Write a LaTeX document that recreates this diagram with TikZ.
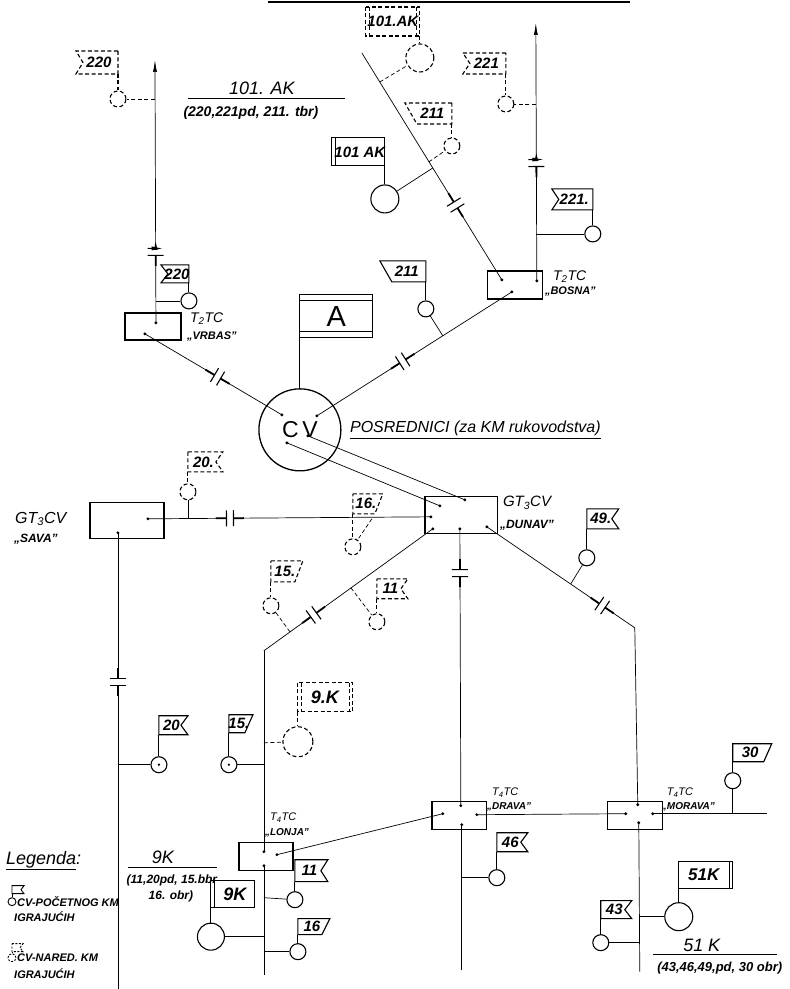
\documentclass[tikz,border=0pt]{standalone}
\usepackage{fontspec}
\setmainfont{Liberation Sans}
\usetikzlibrary{arrows.meta, decorations.markings}

% flags: [style]{name}{x1}{y1}{x2}{y2}{label}
% pole left, notch right
\newcommand{\flagnr}[7][]{%
  \draw[flagline, #1] (#3,#4) -- (#5,#4) -- ({#5-7},{(#4+#6)/2}) -- (#5,#6) -- (#3,#6) -- cycle;
  \coordinate (#2) at (#3,#6);
  \node[flagtxt] (#2-t) at ({(#3+#5)/2-2},{(#4+#6)/2}) {#7};}
% pole right, notch left
\newcommand{\flagnl}[7][]{%
  \draw[flagline, #1] (#5,#4) -- (#3,#4) -- ({#3+7},{(#4+#6)/2}) -- (#3,#6) -- (#5,#6) -- cycle;
  \coordinate (#2) at (#5,#6);
  \node[flagtxt] (#2-t) at ({(#3+#5)/2+2},{(#4+#6)/2}) {#7};}
% pole left, slanted right edge
\newcommand{\flagsr}[7][]{%
  \draw[flagline, #1] (#3,#4) -- (#5,#4) -- ({#5-8},#6) -- (#3,#6) -- cycle;
  \coordinate (#2) at (#3,#6);
  \node[flagtxt] (#2-t) at ({(#3+#5)/2-2},{(#4+#6)/2}) {#7};}
% pole right, slanted left edge
\newcommand{\flagsl}[7][]{%
  \draw[flagline, #1] (#5,#4) -- (#3,#4) -- ({#3+12},#6) -- (#5,#6) -- cycle;
  \coordinate (#2) at (#5,#6);
  \node[flagtxt] (#2-t) at ({(#3+#5)/2+4},{(#4+#6)/2}) {#7};}

\begin{document}
\begin{tikzpicture}[x=1pt, y=-1pt, >=Latex,
    ln/.style = {line width=.7pt},
    dsh/.style = {dash pattern=on 4pt off 2.5pt},
    flagline/.style = {line width=1.1pt},
    flagtxt/.style = {font=\bfseries\itshape\fontsize{15}{15}\selectfont, inner sep=0pt},
    txt/.style = {font=\itshape\fontsize{#1}{#1}\selectfont, inner sep=0pt},
    btxt/.style = {font=\bfseries\itshape\fontsize{#1}{#1}\selectfont, inner sep=0pt},
    tbox/.style = {draw, rectangle, line width=1.3pt, inner sep=0pt},
    stn/.style = {draw, circle, line width=1.1pt, inner sep=0pt, minimum size=16pt},
    bigstn/.style = {stn, minimum size=28pt},
    arr/.style = {-{Latex[length=12pt, width=4pt]}},
    capdeco/.style = {postaction = {decorate, decoration = {markings,
                       mark = at position #1 with {\fill[white] (-3.5,-10) rectangle (3.5,10);
                                                   \draw[line width=1.1pt] (-3.5,-8) -- (-3.5,8) (3.5,-8) -- (3.5,8);
                                                   \draw[line width=1.8pt] (-14,0) -- (-3.5,0) (3.5,0) -- (14,0);}}}}
  ]
  \path[fill=white] (0,0) rectangle (790,989);

  % title rule (cut off)
  \draw[line width=1.4pt] (268,2) -- (630,2);

  % centres
  \node[draw, circle, line width=1.3pt, minimum size=82pt, inner sep=0pt,
        font=\fontsize{23}{23}\selectfont] (cv) at (300,430) {C\,V};
  \node[tbox, minimum width=56, minimum height=27] (vrbas) at (153,326.5) {};
  \node[tbox, minimum width=55, minimum height=28] (bosna) at (515.5,285) {};
  \node[tbox, minimum width=73, minimum height=37] (dunav) at (461.5,515.5) {};
  \node[tbox, minimum width=74, minimum height=36] (sava) at (127,521) {};
  \node[tbox, minimum width=54, minimum height=28] (lonja) at (266,857) {};
  \node[tbox, minimum width=55, minimum height=28] (drava) at (459.5,816) {};
  \node[tbox, minimum width=55, minimum height=28] (morava) at (635.5,816) {};

  % ports
  \coordinate (vrbas-n) at (156,323);  \coordinate (vrbas-sw) at (145,334);
  \coordinate (bosna-w) at (502,280);  \coordinate (bosna-n) at (537,281);
  \coordinate (bosna-s) at (512,292);
  \coordinate (cv-nw) at (282,415);    \coordinate (cv-ne) at (317,416);
  \coordinate (cv-s) at (287,443);     \coordinate (cv-se) at (308,436);
  \coordinate (dunav-nw) at (440,506); \coordinate (dunav-n) at (465,500);
  \coordinate (dunav-w) at (431,517);  \coordinate (dunav-sw) at (433,529);
  \coordinate (dunav-s) at (460,529);  \coordinate (dunav-se) at (487,527);
  \coordinate (sava-e) at (148,519);   \coordinate (sava-s) at (118,533);
  \coordinate (lonja-n) at (264,852);  \coordinate (lonja-e) at (277,855);
  \coordinate (lonja-s) at (264,866);
  \coordinate (drava-w) at (443,814);  \coordinate (drava-n) at (461,806);
  \coordinate (drava-e) at (477,815);  \coordinate (drava-s) at (462,825);
  \coordinate (morava-w) at (626,814); \coordinate (morava-n) at (638,805);
  \coordinate (morava-e) at (653,814); \coordinate (morava-s) at (639,823);
  \foreach \d in {vrbas-n, vrbas-sw, bosna-w, bosna-n, bosna-s, cv-nw, cv-ne, cv-s, cv-se,
                  dunav-nw, dunav-n, dunav-w, dunav-sw, dunav-s, dunav-se, sava-e, sava-s,
                  lonja-n, lonja-e, lonja-s, drava-w, drava-n, drava-e, drava-s,
                  morava-w, morava-n, morava-e, morava-s}
    \fill (\d) circle (1.6);

  % stations
  \node[bigstn, dsh] (c101akd) at (420,58) {};
  \node[stn, dsh] (c220d) at (118,99) {};
  \node[stn, dsh] (c221d) at (506,104) {};
  \node[stn, dsh] (c211d) at (452,146) {};
  \node[bigstn] (c101ak) at (385,199) {};
  \node[stn] (c221) at (593,234) {};
  \node[stn] (c220) at (189,301) {};
  \node[stn] (c211) at (426,309) {};
  \node[stn, dsh] (c20d) at (188,492) {};
  \node[stn, dsh] (c16d) at (353,547) {};
  \node[stn] (c49) at (587,558) {};
  \node[stn, dsh] (c15d) at (271,606) {};
  \node[stn, dsh] (c11d) at (377,622) {};
  \node[bigstn, dsh, minimum size=30pt] (c9kd) at (298,742) {};
  \node[stn] (c20) at (159,765) {};
  \node[stn] (c15) at (229,765) {};
  \fill (c20) circle (1.3) (c15) circle (1.3);
  \node[stn] (c30) at (733,781) {};
  \node[stn] (c46) at (497,878) {};
  \node[stn] (c11) at (295,900) {};
  \node[bigstn] (c51k) at (679,917) {};
  \node[bigstn, minimum size=27pt] (c9k) at (211,937) {};
  \node[stn] (c43) at (601,943) {};
  \node[stn] (c16) at (298,952) {};

  % upper lines
  \coordinate (top220) at (155,60);
  \coordinate (topak) at (362,53);
  \coordinate (top221) at (536,23);
  \draw[ln, arr, capdeco=0.27] (vrbas-n) -- (top220);
  \draw[ln, capdeco=0.33] (bosna-w) -- (topak);
  \draw[ln, arr, capdeco=0.457] (bosna-n) -- (top221);
  \draw[ln, capdeco=0.53] (vrbas-sw) -- (cv-nw);
  \draw[ln, capdeco=0.56] (bosna-s) -- (cv-ne);

  \coordinate (j220d) at (155,99);  \draw[ln, dsh] (j220d) -- (c220d);
  \coordinate (j220) at (156,301);  \draw[ln] (j220) -- (c220);
  \coordinate (jakd) at (380,82);   \draw[ln, dsh] (jakd) -- (c101akd);
  \coordinate (j211d) at (429,162); \draw[ln, dsh] (j211d) -- (c211d);
  \coordinate (jak) at (433,168);   \draw[ln] (jak) -- (c101ak);
  \coordinate (j221d) at (536,104); \draw[ln, dsh] (j221d) -- (c221d);
  \coordinate (j221) at (536,234);  \draw[ln] (j221) -- (c221);
  \coordinate (j211) at (443,336);  \draw[ln] (j211) -- (c211);

  % CV - DUNAV
  \draw[ln] (cv-se) -- (dunav-n);
  \draw[ln] (cv-s) -- (dunav-nw);

  % SAVA - DUNAV
  \draw[ln, capdeco=0.29] (sava-e) -- (dunav-w);
  \coordinate (j20d) at (188,519);  \draw[ln] (j20d) -- (c20d);
  \coordinate (j16d) at (372,519);  \draw[ln, dsh] (j16d) -- (c16d);

  % DUNAV - LONJA
  \coordinate (lonja-top) at (264,651);
  \coordinate (bot-lonja) at (264,975);
  \draw[ln, capdeco=0.706] (dunav-sw) -- (lonja-top);
  \draw[ln] (lonja-top) -- (lonja-n);
  \draw[ln] (lonja-s) -- (bot-lonja);
  \coordinate (j15d) at (290,632);  \draw[ln, dsh] (j15d) -- (c15d);
  \coordinate (j11d) at (351,588);  \draw[ln, dsh] (j11d) -- (c11d);

  % DUNAV - DRAVA
  \coordinate (bot-drava) at (462,970);
  \draw[ln, capdeco=0.16] (dunav-s) -- (drava-n);
  \draw[ln] (drava-s) -- (bot-drava);
  \coordinate (j46) at (462,878);   \draw[ln] (j46) -- (c46);

  % DUNAV - MORAVA
  \coordinate (morava-top) at (635,628);
  \coordinate (bot-morava) at (640,972);
  \draw[ln, capdeco=0.78] (dunav-se) -- (morava-top);
  \draw[ln] (morava-top) -- (morava-n);
  \draw[ln] (morava-s) -- (bot-morava);
  \coordinate (j49) at (571,584);   \draw[ln] (j49) -- (c49);
  \coordinate (j51k) at (639,917);  \draw[ln] (j51k) -- (c51k);
  \coordinate (j43) at (640,943);   \draw[ln] (j43) -- (c43);

  % T4 line
  \coordinate (end30) at (767,814);
  \draw[ln] (lonja-e) -- (drava-w);
  \draw[ln] (drava-e) -- (morava-w);
  \draw[ln] (morava-e) -- (end30);
  \coordinate (j30) at (733,814);   \draw[ln] (j30) -- (c30);

  % SAVA down
  \coordinate (bot-sava) at (118,989);
  \draw[ln, capdeco=0.327] (sava-s) -- (bot-sava);
  \coordinate (j20) at (118,765);   \draw[ln] (j20) -- (c20);

  % LONJA branches
  \coordinate (j15) at (264,765);   \draw[ln] (j15) -- (c15);
  \coordinate (j9kd) at (264,743);  \draw[ln, dsh] (j9kd) -- (c9kd);
  \coordinate (j11) at (264,898);   \draw[ln] (j11) -- (c11);
  \coordinate (j9k) at (264,937);   \draw[ln] (j9k) -- (c9k);
  \coordinate (j16) at (264,952);   \draw[ln] (j16) -- (c16);

  % flags
  \flagnl[dsh]{f220d}{76}{51}{118}{74}{220}
  \flagnl[dsh]{f221d}{463}{53}{506}{74}{221}
  \flagsl[dsh]{f211d}{405}{103}{452}{124}{211}
  \flagnl{f221}{552}{189}{593}{210}{221.}
  \flagnl{f220}{161}{265}{189}{283}{220}
  \flagsl{f211}{380}{261}{426}{282}{211}
  \flagnr[dsh]{f20d}{188}{452}{223}{472}{20.}
  \flagsr[dsh]{f16d}{353}{494}{383}{514}{16.}
  \flagnr{f49}{587}{509}{619}{529}{49.}
  \flagsr[dsh]{f15d}{271}{561}{303}{582}{15.}
  \flagnr[dsh]{f11d}{377}{579}{408}{599}{11}
  \flagnr{f20}{159}{716}{188}{735}{20}
  \flagsr{f15}{229}{715}{253}{733}{15.}
  \flagsr{f30}{733}{744}{772}{762}{30}
  \flagnr{f46}{497}{833}{528}{852}{46}
  \flagnr{f11}{295}{860}{328}{882}{11}
  \flagsr{f16}{298}{919}{330}{935}{16}
  \flagnr{f43}{601}{901}{632}{919}{43}

  % command flags
  \draw[flagline, dsh] (366,7) rectangle (420,36);
  \draw[line width=.8pt, dsh] (369.5,7) -- (369.5,36) (416.5,7) -- (416.5,36);
  \node[flagtxt] (f101akd-t) at (393,21.5) {101.AK};
  \coordinate (f101akd) at (420,36);

  \draw[flagline] (332,138) rectangle (385,166);
  \draw[line width=.8pt] (335.5,138) -- (335.5,166);
  \node[flagtxt] (f101ak-t) at (360,152) {101 AK};
  \coordinate (f101ak) at (385,166);

  \draw[flagline, dsh] (298,683) rectangle (353,712);
  \draw[line width=.8pt, dsh] (301.5,683) -- (301.5,712) (349.5,683) -- (349.5,712);
  \node[btxt=18] (f9kd-t) at (325,697.5) {9.K};
  \coordinate (f9kd) at (298,712);

  \draw[flagline] (211,881) rectangle (255,908);
  \draw[line width=.8pt] (214.5,881) -- (214.5,908);
  \node[btxt=18] (f9k-t) at (235,894.5) {9K};
  \coordinate (f9k) at (211,908);

  \draw[flagline] (679,862) rectangle (733,889);
  \draw[line width=.8pt] (729.5,862) -- (729.5,889);
  \node[btxt=17] (f51k-t) at (704,875.5) {51K};
  \coordinate (f51k) at (679,889);

  \draw[flagline] (300,295) rectangle (373,338);
  \draw[line width=.8pt] (300,301) -- (373,301) (300,332) -- (373,332);
  \node[font=\fontsize{29}{29}\selectfont, inner sep=0pt] (fA-t) at (336.5,317) {A};
  \coordinate (fA) at (300,338);

  % poles
  \foreach \f/\c in {f220d/c220d, f221d/c221d, f211d/c211d, f101akd/c101akd,
                     f20d/c20d, f16d/c16d, f15d/c15d, f11d/c11d, f9kd/c9kd}
    \draw[flagline, dsh] (\f) -- (\c);
  \foreach \f/\c in {f221/c221, f220/c220, f211/c211, f101ak/c101ak, f49/c49, f20/c20,
                     f15/c15, f30/c30, f46/c46, f11/c11, f16/c16, f43/c43, f9k/c9k, f51k/c51k, fA/cv}
    \draw[flagline] (\f) -- (\c);

  % centre names
  \node[txt=14, anchor=west] (vrbas-l1) at (190,319) {T\textsubscript{2}TC};
  \node[btxt=11, anchor=west] (vrbas-l2) at (187,337) {„VRBAS"};
  \node[txt=14, anchor=west] (bosna-l1) at (553,277) {T\textsubscript{2}TC};
  \node[btxt=11, anchor=west] (bosna-l2) at (545,292) {„BOSNA"};
  \node[txt=15, anchor=west] (dunav-l1) at (503,503) {GT\textsubscript{3}CV};
  \node[btxt=12, anchor=west] (dunav-l2) at (500,525) {„DUNAV"};
  \node[txt=16, anchor=west] (sava-l1) at (15,519) {GT\textsubscript{3}CV};
  \node[btxt=12, anchor=west] (sava-l2) at (14,539) {„SAVA"};
  \node[txt=11, anchor=west] (lonja-l1) at (270,818) {T\textsubscript{4}TC};
  \node[btxt=10, anchor=west] (lonja-l2) at (265,833) {„LONJA"};
  \node[txt=11, anchor=west] (drava-l1) at (492,793) {T\textsubscript{4}TC};
  \node[btxt=10, anchor=west] (drava-l2) at (487,807) {„DRAVA"};
  \node[txt=11, anchor=west] (morava-l1) at (667,793) {T\textsubscript{4}TC};
  \node[btxt=10, anchor=west] (morava-l2) at (662,807) {„MORAVA"};

  % unit captions
  \node[txt=18] (ak-name) at (262,88) {101. AK};
  \draw[ln, line width=1pt] (188,99) -- (345,99);
  \node[btxt=14] (ak-units) at (251,113) {(220,221pd, 211. tbr)};

  \node[txt=18] (k9-name) at (163,858) {9K};
  \draw[ln, line width=1pt] (128,868) -- (217,868);
  \node[btxt=12] (k9-units) at (172,881) {(11,20pd, 15.bbr};
  \node[btxt=12] (k9-units2) at (171,897) {16. obr)};

  \node[txt=18] (k51-name) at (702,946) {51 K};
  \draw[ln, line width=1pt] (653,955) -- (777,955);
  \node[btxt=13] (k51-units) at (720,968) {(43,46,49,pd, 30 obr)};

  \node[txt=16, anchor=west] (posr) at (350,430) {\underline{POSREDNICI (za KM rukovodstva)}};

  % legend
  \node[txt=18, anchor=west] (leg) at (6,861) {\underline{Legenda}:};
  \draw[line width=.9pt] (12,886) -- (24,886) -- (21,890) -- (24,894) -- (12,894) -- cycle;
  \coordinate (lg-f1) at (12,894);
  \node[draw, circle, line width=.9pt, minimum size=8pt, inner sep=0pt] (lg-c1) at (12,902) {};
  \draw[line width=.9pt] (lg-f1) -- (lg-c1);
  \node[btxt=11, anchor=west] (lg-t1) at (17,902) {CV-POČETNOG KM};
  \node[btxt=11, anchor=west] (lg-t1b) at (14,917) {IGRAJUĆIH};
  \draw[line width=.9pt, dash pattern=on 2pt off 1.5pt] (12,944) -- (23,944) -- (20,948) -- (23,952) -- (12,952) -- cycle;
  \coordinate (lg-f2) at (12,952);
  \node[draw, circle, line width=.9pt, dash pattern=on 2pt off 1.5pt, minimum size=8pt, inner sep=0pt] (lg-c2) at (12,958) {};
  \draw[line width=.9pt, dash pattern=on 2pt off 1.5pt] (lg-f2) -- (lg-c2);
  \node[btxt=11, anchor=west] (lg-t2) at (17,958) {CV-NARED. KM};
  \node[btxt=11, anchor=west] (lg-t2b) at (14,974) {IGRAJUĆIH};
\end{tikzpicture}
\end{document}
